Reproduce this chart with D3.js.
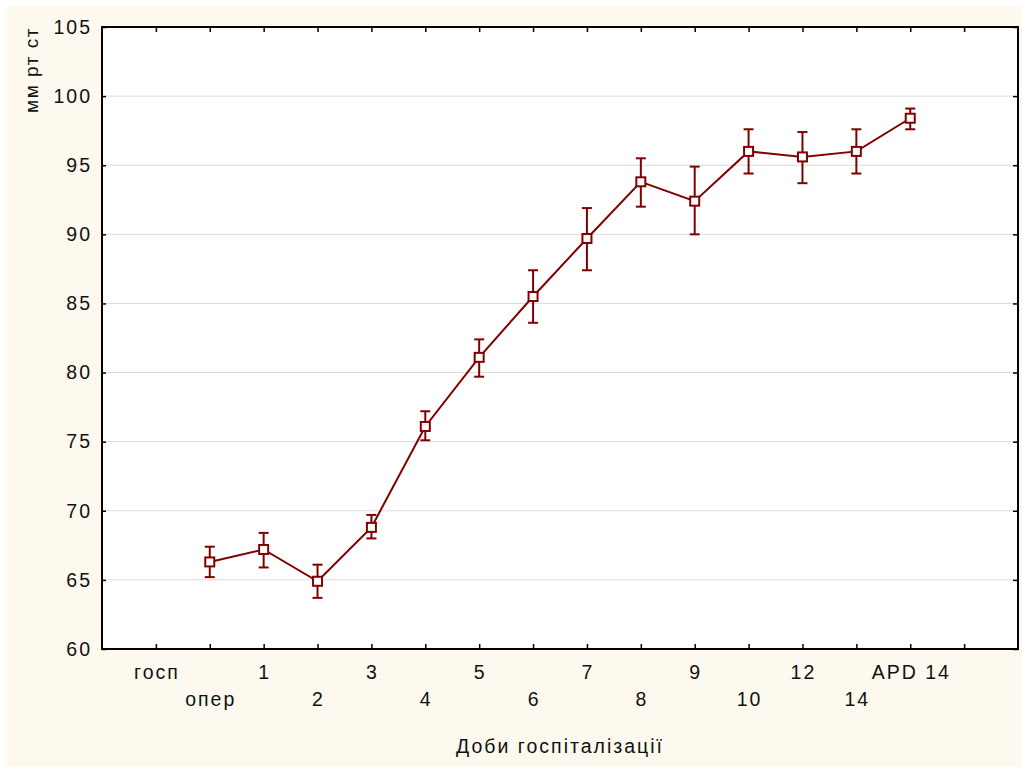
<!DOCTYPE html>
<html lang="uk">
<head>
<meta charset="utf-8">
<script src="https://d3js.org/d3.v7.min.js"></script>
<style>
  html, body { margin: 0; padding: 0; background: #fff; }
  text { font-family: "Liberation Sans", Arial, sans-serif; fill: #111; }
</style>
</head>
<body>
<div id="chart"></div>
<script>
// categories (slot 0 and 16 are empty padding on the axis)
var categories = ["госп", "опер", "1", "2", "3", "4", "5", "6", "7", "8", "9", "10", "12", "14", "APD 14", ""];
// means and error bar ends, from "опер" onwards
var pointCats = ["опер", "1", "2", "3", "4", "5", "6", "7", "8", "9", "10", "12", "14", "APD 14"];
var means = [66.3, 67.2, 64.9, 68.8, 76.1, 81.1, 85.5, 89.7, 93.8, 92.4, 96.0, 95.6, 96.0, 98.4];
var upper = [67.4, 68.4, 66.1, 69.7, 77.2, 82.4, 87.4, 91.9, 95.5, 94.9, 97.6, 97.4, 97.6, 99.1];
var lower = [65.2, 65.9, 63.7, 68.0, 75.1, 79.7, 83.6, 87.4, 92.0, 90.0, 94.4, 93.7, 94.4, 97.6];
var yTicks = [60, 65, 70, 75, 80, 85, 90, 95, 100, 105];

var width = 1022, height = 767;
var margin = {top: 27, right: 4, bottom: 118, left: 102};
var red = "#800000";
var fs = 19.5, ls = 2;

var svg = d3.select("#chart").append("svg")
    .attr("width", width)
    .attr("height", height);

// cream background
svg.append("rect")
    .attr("x", 7).attr("y", 7)
    .attr("width", width - 7).attr("height", height - 7)
    .attr("fill", "#fdf9ee");

var x = d3.scaleLinear()
    .domain([0, categories.length + 1])
    .range([margin.left, width - margin.right]);
var y = d3.scaleLinear()
    .domain([60, 105])
    .range([height - margin.bottom, margin.top]);

var x0 = x.range()[0], x1 = x.range()[1], y0 = y.range()[0], y1 = y.range()[1];

// plot area
svg.append("rect")
    .attr("x", x0).attr("y", y1)
    .attr("width", x1 - x0).attr("height", y0 - y1)
    .attr("fill", "#fff");

// grid lines
svg.append("g")
    .selectAll("line")
    .data(yTicks.slice(1, -1))
    .join("line")
    .attr("x1", x0).attr("x2", x1)
    .attr("y1", d => y(d)).attr("y2", d => y(d))
    .attr("stroke", "#dcdcdc")
    .attr("stroke-width", 1);

var slots = d3.range(1, categories.length + 1);

// bottom axis (ticks inward)
svg.append("g")
    .attr("transform", `translate(0,${y0})`)
    .call(d3.axisTop(x).tickValues(slots).tickSize(5).tickFormat(""))
    .call(g => g.select(".domain").remove())
    .selectAll("line").attr("stroke", "#000").attr("stroke-width", 1.5);
// top axis ticks
svg.append("g")
    .attr("transform", `translate(0,${y1})`)
    .call(d3.axisBottom(x).tickValues(slots).tickSize(5).tickFormat(""))
    .call(g => g.select(".domain").remove())
    .selectAll("line").attr("stroke", "#000").attr("stroke-width", 1.5);
// left axis
svg.append("g")
    .attr("transform", `translate(${x0},0)`)
    .call(d3.axisRight(y).tickValues(yTicks).tickSize(4).tickFormat(""))
    .call(g => g.select(".domain").remove())
    .selectAll("line").attr("stroke", "#000").attr("stroke-width", 1.5);
// right axis
svg.append("g")
    .attr("transform", `translate(${x1},0)`)
    .call(d3.axisLeft(y).tickValues(yTicks).tickSize(5).tickFormat(""))
    .call(g => g.select(".domain").remove())
    .selectAll("line").attr("stroke", "#000").attr("stroke-width", 1.5);

// frame
svg.append("rect")
    .attr("x", x0).attr("y", y1)
    .attr("width", x1 - x0).attr("height", y0 - y1)
    .attr("fill", "none")
    .attr("stroke", "#000")
    .attr("stroke-width", 2);

// y tick labels
svg.append("g")
    .selectAll("text")
    .data(yTicks)
    .join("text")
    .attr("x", x0 - 10)
    .attr("y", d => y(d))
    .attr("dy", "0.35em")
    .attr("text-anchor", "end")
    .attr("font-size", fs)
    .attr("letter-spacing", ls)
    .text(d => d);

// x tick labels, alternating rows
svg.append("g")
    .selectAll("text")
    .data(categories.filter(c => c !== ""))
    .join("text")
    .attr("x", (d, i) => x(i + 1) + ls / 2)
    .attr("y", (d, i) => i % 2 === 0 ? 679 : 706)
    .attr("text-anchor", "middle")
    .attr("font-size", fs)
    .attr("letter-spacing", ls)
    .text(d => d);

// axis titles
svg.append("text")
    .attr("x", (x0 + x1) / 2)
    .attr("y", 753)
    .attr("text-anchor", "middle")
    .attr("font-size", fs)
    .attr("letter-spacing", ls)
    .text("Доби госпіталізації");

svg.append("text")
    .attr("transform", `translate(38,70) rotate(-90)`)
    .attr("text-anchor", "middle")
    .attr("font-size", 19)
    .attr("letter-spacing", 1.5)
    .text("мм рт ст");

var xPos = c => x(categories.indexOf(c) + 1);
var pts = pointCats.map((c, i) => ({c: c, m: means[i], hi: upper[i], lo: lower[i]}));

// line
svg.append("path")
    .datum(pts)
    .attr("fill", "none")
    .attr("stroke", red)
    .attr("stroke-width", 2)
    .attr("d", d3.line().x(d => xPos(d.c)).y(d => y(d.m)));

// error bars
var eb = svg.append("g")
    .attr("stroke", red)
    .attr("stroke-width", 2);
eb.selectAll(".v").data(pts).join("line")
    .attr("x1", d => xPos(d.c)).attr("x2", d => xPos(d.c))
    .attr("y1", d => y(d.hi)).attr("y2", d => y(d.lo));
eb.selectAll(".t").data(pts).join("line")
    .attr("x1", d => xPos(d.c) - 5).attr("x2", d => xPos(d.c) + 5)
    .attr("y1", d => y(d.hi)).attr("y2", d => y(d.hi));
eb.selectAll(".b").data(pts).join("line")
    .attr("x1", d => xPos(d.c) - 5).attr("x2", d => xPos(d.c) + 5)
    .attr("y1", d => y(d.lo)).attr("y2", d => y(d.lo));

// square markers
svg.append("g")
    .selectAll("rect")
    .data(pts)
    .join("rect")
    .attr("x", d => xPos(d.c) - 4.5)
    .attr("y", d => y(d.m) - 4.5)
    .attr("width", 9).attr("height", 9)
    .attr("fill", "#fff")
    .attr("stroke", red)
    .attr("stroke-width", 2);
</script>
</body>
</html>
